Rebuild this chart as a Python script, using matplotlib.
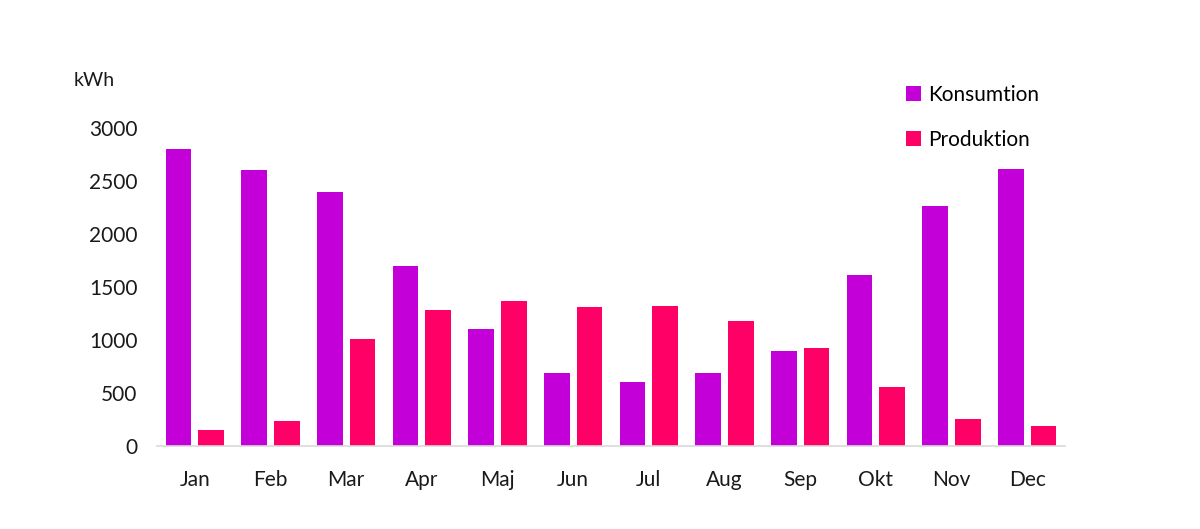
import matplotlib
matplotlib.use("Agg")
import matplotlib.pyplot as plt
import numpy as np

months = ["Jan", "Feb", "Mar", "Apr", "Maj", "Jun", "Jul", "Aug", "Sep", "Okt", "Nov", "Dec"]
konsumtion = [2800, 2600, 2400, 1700, 1100, 690, 600, 690, 900, 1610, 2260, 2610]
produktion = [150, 240, 1010, 1280, 1370, 1310, 1320, 1180, 925, 560, 250, 190]
yticks = [0, 500, 1000, 1500, 2000, 2500, 3000]

plt.rcParams['font.family'] = ['Lato', 'DejaVu Sans']

fig = plt.figure(figsize=(12, 5.29), dpi=100)
ax = fig.add_axes([0.1308, 0.1569, 0.7567, 0.6012])

x = np.arange(len(months))
w = 0.34
ax.bar(x - 0.215, konsumtion, width=w, color="#C400D8", label="Konsumtion")
ax.bar(x + 0.215, produktion, width=w, color="#FF0066", label="Produktion")

ax.set_xlim(-0.5, 11.5)
ax.set_ylim(0, 3000)
ax.set_xticks(x)
ax.set_xticklabels(months, fontsize=15, color="#1a1a1a")
ax.set_yticks(yticks)
ax.set_yticklabels([str(v) for v in yticks], fontsize=15, color="#1a1a1a")
ax.tick_params(axis='both', length=0)
ax.tick_params(axis='x', pad=17)
ax.tick_params(axis='y', pad=14)
for s in ["top", "right", "left"]:
    ax.spines[s].set_visible(False)
ax.spines["bottom"].set_color("#D9D9D9")
ax.spines["bottom"].set_linewidth(1.2)

fig.text(0.061, 0.848, "kWh", fontsize=14, color="#1a1a1a", va="center", ha="left")

leg = fig.legend(loc="upper left", bbox_to_anchor=(0.748, 0.856), frameon=False,
                 fontsize=15, handlelength=0.7, handleheight=0.7, handletextpad=0.35,
                 labelspacing=1.2, borderaxespad=0)

fig.savefig("out.png", dpi=100, facecolor="white")
